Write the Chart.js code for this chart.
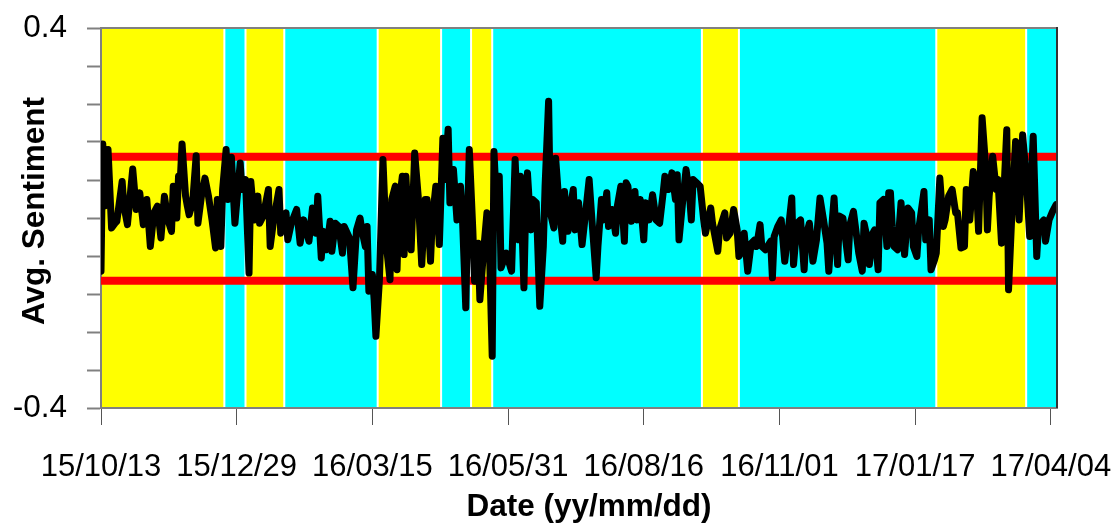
<!DOCTYPE html>
<html><head><meta charset="utf-8">
<script src="https://cdn.jsdelivr.net/npm/chart.js@4.4.1/dist/chart.umd.min.js"></script>
<style>html,body{margin:0;padding:0;background:#fff;}canvas{display:block;}</style>
</head><body>
<canvas id="c" width="1117" height="525"></canvas>
<script>
// Days since 2015-10-13
const days = [
0,1,2,4,6,8,9,12,13,15,18,20,22,24,26,28,30,32,34,36,38,40,41,43,44,45,46,48,49,50,52,54,55,57,59,61,63,65,66,68,69,71,72,74,76,79,80,82,
84,85,87,89,90,92,95,96,98,101,102,105,106,108,111,113,115,118,120,122,123,125,126,128,130,131,133,135,137,138,141,143,145,147,148,150,151,152,154,155,156,158,160,162,164,165,167,168,169,171,172,173,175,176,178,
180,182,184,185,187,188,190,192,194,195,197,198,200,202,204,205,207,208,209,211,212,214,215,217,219,220,222,223,225,226,227,230,233,235,237,238,240,241,242,244,245,247,249,251,252,254,255,257,258,260,262,263,265,266,268,
269,271,273,275,277,279,281,282,284,285,287,288,290,292,293,295,297,298,299,301,303,304,306,308,309,311,313,315,317,319,320,322,324,326,327,328,330,332,334,335,336,338,340,342,343,346,347,350,351,354,355,
357,359,361,362,364,365,367,369,371,372,374,375,377,380,381,382,384,386,388,389,392,393,395,397,399,400,402,404,406,408,410,412,413,415,416,418,419,421,424,425,427,430,432,433,435,436,438,439,441,442,444,446,447,
448,449,450,452,454,456,458,460,461,463,464,467,468,470,471,473,474,476,478,479,481,483,485,486,488,490,491,493,495,497,498,500,502,503,504,506,508,509,511,512,514,515,517,519,521,522,523,525,527,528,529,531,532,535,536,538,540,542
];
const sentiment = [
-0.112,0.156,0.025,0.144,-0.021,-0.011,-0.007,0.077,0.025,-0.014,0.103,0.018,0.053,-0.014,0.039,-0.060,0.011,0.025,-0.042,0.046,-0.004,-0.028,0.067,0.000,0.088,0.081,0.156,0.046,0.025,0.007,0.032,0.131,-0.011,0.046,0.084,0.046,-0.004,-0.063,0.039,-0.060,0.060,0.144,0.039,0.128,-0.011,0.116,0.060,0.081,
-0.116,0.077,-0.004,0.046,-0.011,0.004,0.060,-0.060,-0.004,0.060,-0.032,0.011,-0.046,-0.011,0.018,-0.053,-0.004,-0.049,0.021,-0.032,0.046,-0.084,-0.028,-0.067,-0.007,-0.070,-0.011,-0.018,-0.074,-0.018,-0.042,-0.147,-0.025,0.000,-0.025,-0.060,-0.018,-0.154,-0.119,-0.172,-0.249,-0.130,0.123,-0.060,-0.130,0.039,0.067,-0.109,0.025,0.088,-0.077,0.088,-0.046,-0.067,0.137,
0.046,-0.098,0.039,0.039,-0.091,-0.004,0.067,-0.056,0.168,0.081,0.187,0.032,0.102,-0.004,0.067,0.011,-0.189,-0.004,0.144,-0.025,-0.133,-0.053,-0.172,-0.074,0.011,-0.004,-0.291,0.140,-0.018,0.088,-0.105,-0.074,-0.112,0.123,-0.046,0.088,-0.147,0.025,0.095,-0.025,0.039,0.032,-0.186,-0.060,0.067,0.246,0.011,-0.021,0.126,0.025,-0.049,0.056,-0.028,0.014,0.060,
-0.025,0.032,-0.056,0.011,0.081,-0.025,-0.126,-0.060,0.039,-0.004,0.053,-0.018,0.018,-0.032,0.025,0.067,-0.049,0.074,0.067,-0.007,0.056,-0.004,0.039,-0.046,0.032,-0.004,0.049,-0.004,-0.011,0.053,0.088,0.060,0.095,0.039,0.091,-0.046,0.032,0.102,0.046,-0.004,0.081,0.074,0.067,-0.004,-0.032,0.021,-0.011,-0.070,-0.025,0.011,-0.042,
-0.032,0.018,-0.025,-0.081,-0.067,-0.032,-0.112,-0.053,-0.046,-0.060,-0.014,-0.060,-0.067,-0.049,-0.126,-0.039,-0.018,-0.004,-0.091,-0.060,0.042,-0.098,-0.011,-0.004,-0.109,-0.039,-0.011,-0.091,-0.046,0.042,-0.004,-0.053,-0.112,-0.004,0.042,-0.098,0.004,0.000,-0.088,-0.014,0.014,-0.074,-0.112,-0.011,-0.046,-0.098,-0.032,-0.025,-0.109,0.032,0.039,-0.060,0.053,
0.053,-0.018,-0.060,-0.067,0.032,-0.077,0.021,0.011,-0.060,-0.081,-0.025,0.056,-0.046,-0.004,-0.109,-0.088,-0.074,0.084,-0.018,-0.004,0.046,0.060,0.011,0.011,-0.063,-0.060,0.060,-0.004,0.098,0.053,-0.028,0.211,0.109,-0.025,0.046,0.130,0.060,0.081,-0.053,0.025,0.186,-0.151,0.018,0.161,-0.004,0.081,0.175,0.088,-0.039,0.081,0.172,-0.081,-0.018,-0.004,-0.049,-0.004,0.014,0.028
];
const limitDays = [0, 542.5];
const upperLimit = [0.129, 0.129];
const lowerLimit = [-0.132, -0.132];
const bandEdges = [0,70,82,104,157,193,210,222,341,362,474,525,542.5];
const bandKinds = ['Y','C','Y','C','Y','C','Y','C','Y','C','Y','C'];
const xTickDays = [0,77,154,231,308,385,462,539];
const xTickLabels = ['15/10/13','15/12/29','16/03/15','16/05/31','16/08/16','16/11/01','17/01/17','17/04/04'];
const yTickValues = [-0.4,-0.32,-0.24,-0.16,-0.08,0,0.08,0.16,0.24,0.32,0.4];
const yTickLabels = ['-0.4','','','','','','','','','','0.4'];
const xTitle = 'Date (yy/mm/dd)';
const yTitle = 'Avg. Sentiment';

const FONT = "'Liberation Sans', Arial, sans-serif";

const bandPlugin = {
  id: 'bands',
  beforeDraw(chart) {
    const {ctx, chartArea: a, scales: {x}} = chart;
    ctx.save();
    ctx.beginPath(); ctx.rect(a.left, a.top, a.right - a.left, a.bottom - a.top); ctx.clip();
    for (let i = 0; i < bandKinds.length; i++) {
      const x0 = x.getPixelForValue(bandEdges[i]);
      const x1 = x.getPixelForValue(bandEdges[i + 1]);
      ctx.fillStyle = bandKinds[i] === 'Y' ? '#ffff00' : '#00ffff';
      ctx.fillRect(x0, a.top, x1 - x0, a.bottom - a.top);
    }
    ctx.fillStyle = '#ffffff';
    for (let i = 1; i < bandEdges.length - 1; i++) {
      const p = x.getPixelForValue(bandEdges[i]);
      ctx.fillRect(p - 1, a.top, 2, a.bottom - a.top);
    }
    ctx.restore();
  },
  afterDraw(chart) {
    const {ctx, chartArea: a} = chart;
    ctx.save();
    ctx.lineWidth = 2;
    ctx.strokeStyle = '#808080';
    ctx.beginPath(); ctx.moveTo(a.left, a.top); ctx.lineTo(a.right, a.top); ctx.stroke();
    ctx.strokeStyle = '#333333';
    ctx.beginPath(); ctx.moveTo(a.right, a.top - 1); ctx.lineTo(a.right, a.bottom); ctx.stroke();
    // axis titles
    ctx.fillStyle = '#000';
    ctx.font = "bold 31.5px " + FONT;
    ctx.textAlign = 'center';
    ctx.textBaseline = 'middle';
    ctx.fillText(xTitle, 589, 507);
    ctx.translate(35, 211);
    ctx.rotate(-Math.PI / 2);
    ctx.fillText(yTitle, 0, 0);
    ctx.restore();
  }
};

new Chart(document.getElementById('c'), {
  type: 'line',
  data: {
    datasets: [
      { data: days.map((d, i) => ({x: d, y: sentiment[i]})), borderColor: '#000', borderWidth: 7,
        pointRadius: 0, tension: 0, borderJoinStyle: 'round', borderCapStyle: 'round', order: 0 },
      { data: limitDays.map((d, i) => ({x: d, y: upperLimit[i]})), borderColor: '#ff0000', borderWidth: 8,
        pointRadius: 0, order: 1 },
      { data: limitDays.map((d, i) => ({x: d, y: lowerLimit[i]})), borderColor: '#ff0000', borderWidth: 8,
        pointRadius: 0, order: 1 }
    ]
  },
  options: {
    responsive: false, animation: false, devicePixelRatio: 1,
    layout: { padding: { left: 0, top: 28, right: 60, bottom: 0 } },
    plugins: { legend: { display: false }, tooltip: { enabled: false } },
    scales: {
      x: {
        type: 'linear', min: 0, max: 542.5,
        afterBuildTicks: s => { s.ticks = xTickDays.map(v => ({value: v})); },
        afterFit: s => { s.height = 117; s.paddingLeft = 0; s.paddingRight = 0; },
        ticks: { callback: (v, i) => xTickLabels[i], font: {family: FONT, size: 31}, color: '#000',
                 padding: 24, maxRotation: 0, autoSkip: false },
        grid: { drawOnChartArea: false, drawTicks: true, tickLength: 17, tickColor: '#555', tickWidth: 1 },
        border: { display: true, color: '#808080', width: 2 },
        title: { display: false }
      },
      y: {
        type: 'linear', min: -0.4, max: 0.4,
        afterBuildTicks: s => { s.ticks = yTickValues.map(v => ({value: v})); },
        afterFit: s => { s.width = 101; s.paddingTop = 0; s.paddingBottom = 0; },
        ticks: { callback: (v, i) => yTickLabels[i], font: {family: FONT, size: 31.5}, color: '#000',
                 padding: 20, autoSkip: false },
        grid: { drawOnChartArea: false, drawTicks: true, tickLength: 14, tickColor: '#808080', tickWidth: 2 },
        border: { display: true, color: '#808080', width: 2 },
        title: { display: false }
      }
    }
  },
  plugins: [bandPlugin]
});
</script>
</body></html>
